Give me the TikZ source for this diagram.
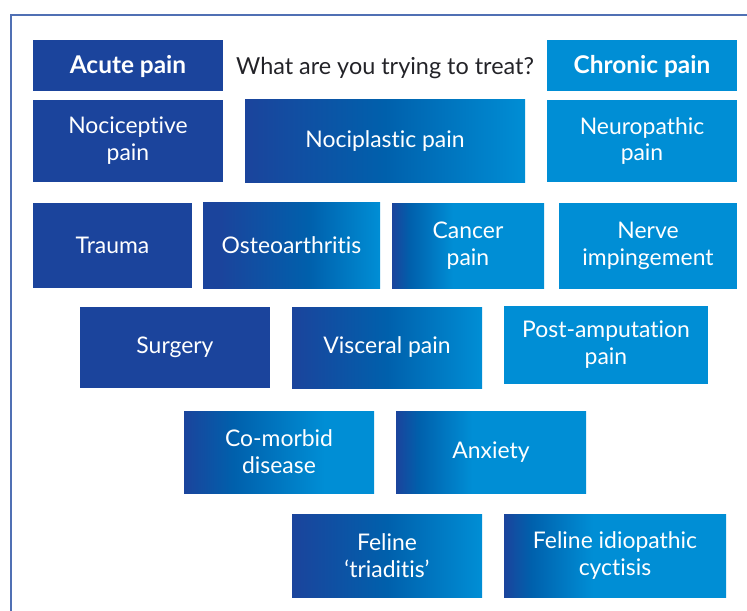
\documentclass[tikz,border=0pt]{standalone}
\usepackage{fontspec}
\setmainfont{Lato}[Ligatures=NoCommon]
\usepackage{tikz}
\usetikzlibrary{positioning}
\definecolor{paindark}{RGB}{27,68,156}
\definecolor{painlight}{RGB}{0,142,213}
\definecolor{painmid}{RGB}{0,96,172}
\definecolor{frameblue}{RGB}{80,112,180}
\definecolor{titlegrey}{RGB}{35,35,40}
\pgfdeclarehorizontalshading{fadeeven}{100bp}{color(0bp)=(paindark); color(25bp)=(paindark); color(50bp)=(painmid); color(75bp)=(painlight); color(100bp)=(painlight)}
\pgfdeclarehorizontalshading{fadelate}{100bp}{color(0bp)=(paindark); color(30bp)=(paindark); color(55bp)=(painmid); color(75bp)=(painlight); color(100bp)=(painlight)}
\pgfdeclarehorizontalshading{fademid}{100bp}{color(0bp)=(paindark); color(25bp)=(paindark); color(38bp)=(painmid); color(62bp)=(painlight); color(100bp)=(painlight)}
\pgfdeclarehorizontalshading{fadeearly}{100bp}{color(0bp)=(paindark); color(25bp)=(paindark); color(31bp)=(painmid); color(45bp)=(painlight); color(100bp)=(painlight)}
\tikzset{
  painbox/.style={rectangle, inner sep=0pt, align=center, text=white,
    font=\fontsize{23}{27}\selectfont},
  acutebox/.style={painbox, fill=paindark},
  chronicbox/.style={painbox, fill=painlight},
  mixbox/.style={painbox, shade, shading=#1},
  headbox/.style={rectangle, inner sep=0pt, align=center, text=white,
    font=\bfseries\fontsize{24.5}{28}\selectfont, minimum width=190bp, minimum height=51bp}
}

\begin{document}
\begin{tikzpicture}[x=1bp, y=-1bp]
  \useasboundingbox (0,0) rectangle (747,611);
  \draw[frameblue, line width=1.5bp] (11,611) -- (11,15) -- (747,15);

  % header row
  \node[headbox, fill=paindark] (acute) at (128,66) {Acute pain};
  \node[headbox, fill=painlight] (chronic) at (642,66) {Chronic pain};
  \node[font=\fontsize{23.5}{27}\selectfont, text=titlegrey] (question) at (385,68) {What are you trying to treat?};

  % pain types
  \node[acutebox, minimum width=190bp, minimum height=82bp] (nocicep) at (128,141) {Nociceptive\\pain};
  \node[mixbox=fadeeven, minimum width=280bp, minimum height=82bp] (nociplast) at (385,141) {Nociplastic pain};
  \node[chronicbox, minimum width=190bp, minimum height=82bp] (neuro) at (642,141) {Neuropathic\\pain};

  % conditions
  \node[acutebox, minimum width=159bp, minimum height=85bp] (trauma) at (112.5,245.5) {Trauma};
  \node[mixbox=fadelate, minimum width=177bp, minimum height=85bp] (osteo) at (291.5,245.5) {Osteoarthritis};
  \node[mixbox=fadeearly, minimum width=152bp, minimum height=85bp] (cancer) at (468,246) {Cancer\\pain};
  \node[chronicbox, minimum width=178bp, minimum height=85bp] (nerve) at (648,246) {Nerve\\impingement};

  \node[acutebox, minimum width=190bp, minimum height=81bp] (surgery) at (175,347.5) {Surgery};
  \node[mixbox=fadeeven, minimum width=190bp, minimum height=81bp] (visceral) at (387,347.5) {Visceral pain};
  \node[chronicbox, minimum width=204bp, minimum height=78bp] (postamp) at (606,345) {Post-amputation\\pain};

  \node[mixbox=fademid, minimum width=190bp, minimum height=82bp] (comorbid) at (279,452) {Co-morbid\\disease};
  \node[mixbox=fadeearly, minimum width=190bp, minimum height=82bp] (anxiety) at (491,452) {Anxiety};

  \node[mixbox=fadeeven, minimum width=190bp, minimum height=83bp] (triaditis) at (387,555.5) {Feline\\‘triaditis’};
  \node[mixbox=fadeearly, minimum width=222bp, minimum height=83bp] (fic) at (615,555.5) {Feline idiopathic\\cyctisis};
\end{tikzpicture}
\end{document}
